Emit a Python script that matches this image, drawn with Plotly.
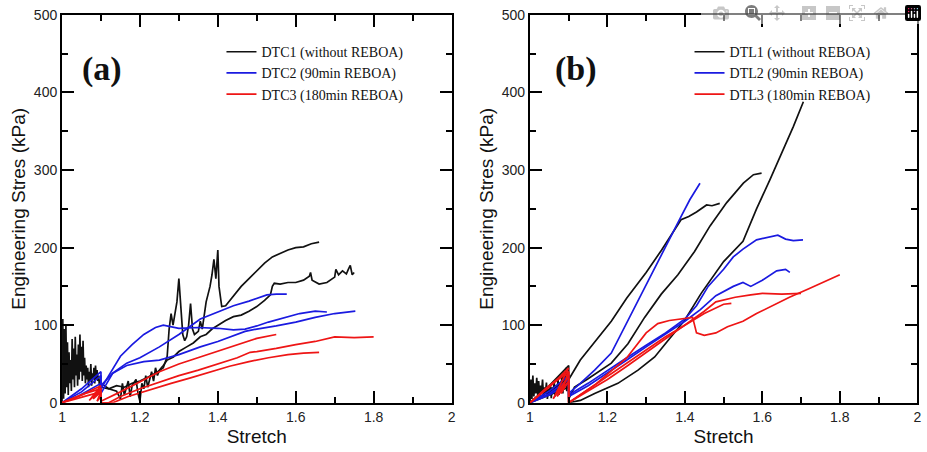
import plotly.graph_objects as go

# ---- panel (a): DTC specimens ----
A_NOISE_X = [1.000, 1.002, 1.004, 1.006, 1.008, 1.010, 1.012, 1.014, 1.016, 1.018, 1.020,
             1.022, 1.024, 1.026, 1.028, 1.030, 1.032, 1.034, 1.036, 1.038, 1.040,
             1.042, 1.044, 1.046, 1.048, 1.050, 1.052, 1.054, 1.056, 1.058, 1.060,
             1.062, 1.064, 1.066, 1.068, 1.070, 1.072, 1.074, 1.076, 1.078, 1.080,
             1.082, 1.084, 1.086, 1.088, 1.090, 1.092, 1.094, 1.096, 1.098, 1.100]
A_NOISE_Y = [0, 108, 5, 95, 12, 100, 20, 78, 10, 65, 25,
             55, 15, 82, 30, 70, 20, 85, 35, 62, 22,
             75, 30, 88, 40, 72, 28, 80, 35, 58, 25,
             48, 30, 45, 20, 40, 28, 50, 22, 38, 30,
             45, 25, 48, 30, 42, 28, 35, 22, 30, 20]

A_BLACK1_X = [1.10, 1.12, 1.14, 1.16, 1.18, 1.20, 1.22, 1.24, 1.26, 1.27, 1.275, 1.28, 1.285,
              1.29, 1.295, 1.30, 1.305, 1.31, 1.315, 1.32, 1.325, 1.33, 1.335, 1.34, 1.35,
              1.355, 1.36, 1.365, 1.37, 1.375, 1.38, 1.385, 1.39, 1.395, 1.40, 1.403, 1.407,
              1.41, 1.42, 1.44, 1.46, 1.48, 1.50, 1.52, 1.54, 1.56, 1.58, 1.60, 1.62, 1.64, 1.66]
A_BLACK1_Y = [20, 18, 22, 20, 25, 28, 33, 38, 45, 60, 95, 115, 100,
              118, 130, 160, 125, 88, 80, 85, 100, 128, 95, 88, 92,
              105, 95, 112, 130, 140, 150, 165, 185, 160, 197, 150, 130,
              124, 125, 138, 150, 160, 170, 180, 188, 193, 197, 200, 201, 205, 207]

A_BLACK2_X = [1.10, 1.12, 1.14, 1.15, 1.155, 1.16, 1.17, 1.175, 1.18, 1.19, 1.195, 1.20, 1.205,
              1.21, 1.215, 1.22, 1.225, 1.23, 1.235, 1.24, 1.245, 1.25, 1.26, 1.27, 1.286,
              1.30, 1.32, 1.337, 1.355, 1.37, 1.385, 1.40, 1.42, 1.44, 1.46, 1.48, 1.50,
              1.52, 1.535, 1.54, 1.545, 1.56, 1.58, 1.60, 1.62, 1.635, 1.638, 1.642, 1.66,
              1.68, 1.69, 1.70, 1.703, 1.71, 1.72, 1.73, 1.735, 1.74, 1.745, 1.75]
A_BLACK2_Y = [25, 18, 15, 5, 25, 10, 28, 8, 22, 30, 12, 2, 25,
              18, 35, 20, 30, 40, 28, 45, 35, 42, 48, 55, 59,
              66, 72, 77, 85, 88, 95, 100, 106, 111, 113, 118, 124,
              132, 139, 150, 154, 153, 155, 155, 158, 163, 168, 158, 153,
              155, 158, 162, 172, 165, 170, 166, 172, 177, 165, 168]

A_BLUE1_X = [1.00, 1.05, 1.10, 1.10, 1.12, 1.15, 1.18, 1.21, 1.24, 1.26, 1.30, 1.35, 1.40,
             1.44, 1.47, 1.50, 1.53, 1.57, 1.61, 1.65, 1.68]
A_BLUE1_Y = [0, 18, 40, 18, 35, 60, 75, 88, 97, 100, 96, 97, 96,
             94, 95, 99, 104, 110, 115, 118, 117]
A_BLUE2_X = [1.00, 1.05, 1.10, 1.10, 1.13, 1.166, 1.20, 1.25, 1.30, 1.355, 1.40, 1.44, 1.48,
             1.526, 1.55, 1.577]
A_BLUE2_Y = [0, 14, 35, 22, 38, 51, 58, 72, 88, 108, 117, 125, 131,
             139, 140, 140]
A_BLUE3_X = [1.00, 1.04, 1.10, 1.10, 1.13, 1.166, 1.21, 1.25, 1.30, 1.355, 1.40, 1.44, 1.47,
             1.50, 1.55, 1.60, 1.65, 1.70, 1.753]
A_BLUE3_Y = [0, 8, 25, 12, 38, 48, 53, 55, 62, 72, 79, 86, 92,
             95, 99, 104, 110, 115, 118]

A_RED1_X = [1.00, 1.05, 1.10, 1.07, 1.10, 1.08, 1.10, 1.10, 1.15, 1.20, 1.25, 1.30, 1.35,
            1.40, 1.45, 1.50, 1.55]
A_RED1_Y = [0, 10, 22, 3, 18, 5, 14, 2, 14, 27, 40, 50, 58,
            67, 75, 83, 88]
A_RED2_X = [1.00, 1.06, 1.10, 1.10, 1.12, 1.15, 1.20, 1.25, 1.30, 1.35, 1.40, 1.45, 1.483,
            1.50, 1.55, 1.60, 1.65, 1.70, 1.75, 1.80]
A_RED2_Y = [0, 12, 18, 0, 0, 8, 18, 27, 35, 42, 50, 58, 65,
            66, 70, 75, 79, 85, 84, 85]
A_RED3_X = [1.00, 1.07, 1.10, 1.09, 1.10, 1.10, 1.13, 1.17, 1.22, 1.28, 1.33, 1.38, 1.43,
            1.48, 1.50, 1.53, 1.58, 1.62, 1.66]
A_RED3_Y = [0, 10, 14, 2, 8, 0, 0, 8, 16, 25, 32, 40, 47,
            53, 55, 58, 62, 64, 65]

# ---- panel (b): DTL specimens ----
B_NOISE_X = [1.000, 1.0025, 1.005, 1.0075, 1.010, 1.0125, 1.015, 1.0175, 1.020, 1.0225, 1.025,
             1.0275, 1.030, 1.0325, 1.035, 1.0375, 1.040, 1.0425, 1.045, 1.0475, 1.050,
             1.0525, 1.055, 1.0575, 1.060, 1.0625, 1.065, 1.0675, 1.070, 1.0725, 1.075,
             1.0775, 1.080, 1.0825, 1.085, 1.0875, 1.090, 1.0925, 1.095, 1.0975, 1.100]
B_NOISE_Y = [0, 30, 5, 35, 8, 25, 12, 32, 10, 28, 6,
             22, 14, 30, 8, 20, 12, 26, 5, 18, 10,
             24, 6, 20, 12, 28, 8, 22, 15, 30, 10,
             25, 18, 35, 12, 40, 20, 45, 15, 38, 25]

B_BLACK1_X = [1.00, 1.05, 1.10, 1.10, 1.13, 1.167, 1.21, 1.25, 1.30, 1.34, 1.37, 1.39, 1.41,
              1.43, 1.456, 1.47, 1.49]
B_BLACK1_Y = [0, 22, 48, 30, 55, 78, 105, 135, 168, 197, 220, 236, 240,
              246, 255, 254, 257]
B_BLACK2_X = [1.00, 1.06, 1.10, 1.10, 1.115, 1.15, 1.21, 1.253, 1.296, 1.339, 1.382, 1.425,
              1.465, 1.508, 1.551, 1.577, 1.598]
B_BLACK2_Y = [0, 18, 35, 5, 20, 31, 51, 76, 110, 140, 165, 195,
              228, 258, 283, 294, 296]
B_BLACK3_X = [1.00, 1.05, 1.10, 1.10, 1.13, 1.167, 1.227, 1.279, 1.322, 1.356, 1.399, 1.442,
              1.477, 1.50, 1.55, 1.585, 1.62, 1.65, 1.68, 1.706]
B_BLACK3_Y = [0, 10, 20, 0, 3, 12, 25, 42, 59, 80, 106, 141,
              165, 182, 208, 250, 288, 322, 356, 388]

B_BLUE1_X = [1.00, 1.05, 1.10, 1.10, 1.13, 1.167, 1.21, 1.253, 1.296, 1.339, 1.39, 1.413,
             1.43, 1.439]
B_BLUE1_Y = [0, 15, 35, 12, 25, 42, 64, 106, 149, 192, 240, 262,
             275, 283]
B_BLUE2_X = [1.00, 1.05, 1.10, 1.10, 1.15, 1.20, 1.25, 1.30, 1.35, 1.40, 1.43, 1.46, 1.50,
             1.525, 1.55, 1.585, 1.62, 1.64, 1.66, 1.68, 1.705]
B_BLUE2_Y = [0, 12, 30, 10, 25, 42, 58, 74, 90, 108, 125, 150, 172,
             188, 198, 210, 214, 216, 211, 209, 210]
B_BLUE3_X = [1.00, 1.05, 1.10, 1.10, 1.15, 1.20, 1.25, 1.30, 1.35, 1.40, 1.44, 1.48, 1.525,
             1.55, 1.57, 1.60, 1.637, 1.66, 1.671]
B_BLUE3_Y = [0, 10, 25, 8, 22, 38, 55, 72, 88, 105, 120, 138, 150,
             155, 150, 158, 170, 172, 168]

B_RED1_X = [1.00, 1.05, 1.10, 1.06, 1.10, 1.07, 1.10, 1.08, 1.10, 1.10, 1.17, 1.25, 1.30,
            1.33, 1.36, 1.40, 1.42, 1.425, 1.43, 1.45, 1.48, 1.51, 1.55, 1.585, 1.62,
            1.67, 1.72, 1.76, 1.80]
B_RED1_Y = [0, 20, 45, 5, 35, 8, 28, 12, 40, 0, 24, 58, 90,
            102, 106, 109, 110, 100, 90, 87, 90, 98, 105, 115, 124,
            136, 147, 156, 165]
B_RED2_X = [1.00, 1.06, 1.10, 1.10, 1.15, 1.20, 1.25, 1.30, 1.35, 1.40, 1.45, 1.48, 1.53,
            1.57, 1.60, 1.65, 1.70]
B_RED2_Y = [0, 25, 40, 0, 15, 30, 47, 65, 82, 100, 118, 130, 136,
            139, 141, 140, 141]
B_RED3_X = [1.00, 1.04, 1.09, 1.10, 1.10, 1.15, 1.20, 1.25, 1.30, 1.35, 1.40, 1.45, 1.50, 1.52]
B_RED3_Y = [0, 18, 38, 30, 0, 17, 33, 50, 68, 85, 100, 115, 127, 128]

A_LEGEND = ["DTC1 (without REBOA)", "DTC2 (90min REBOA)", "DTC3 (180min REBOA)"]
B_LEGEND = ["DTL1 (without REBOA)", "DTL2 (90min REBOA)", "DTL3 (180min REBOA)"]

BLACK = "#111111"
BLUE = "#1a1ae0"
RED = "#ee1515"
SERIF = "Liberation Serif, Times New Roman, serif"
SANS = "Liberation Sans, Arial, sans-serif"

PANELS = [
    dict(xaxis="x", yaxis="y", legend="legend", names=A_LEGEND, groups=[
        (BLACK, [(A_NOISE_X, A_NOISE_Y), (A_BLACK1_X, A_BLACK1_Y), (A_BLACK2_X, A_BLACK2_Y)]),
        (BLUE, [(A_BLUE1_X, A_BLUE1_Y), (A_BLUE2_X, A_BLUE2_Y), (A_BLUE3_X, A_BLUE3_Y)]),
        (RED, [(A_RED1_X, A_RED1_Y), (A_RED2_X, A_RED2_Y), (A_RED3_X, A_RED3_Y)])]),
    dict(xaxis="x2", yaxis="y2", legend="legend2", names=B_LEGEND, groups=[
        (BLACK, [(B_NOISE_X, B_NOISE_Y), (B_BLACK1_X, B_BLACK1_Y), (B_BLACK2_X, B_BLACK2_Y),
                 (B_BLACK3_X, B_BLACK3_Y)]),
        (BLUE, [(B_BLUE1_X, B_BLUE1_Y), (B_BLUE2_X, B_BLUE2_Y), (B_BLUE3_X, B_BLUE3_Y)]),
        (RED, [(B_RED1_X, B_RED1_Y), (B_RED2_X, B_RED2_Y), (B_RED3_X, B_RED3_Y)])]),
]


def join_curves(curves):
    # one trace per colour; None breaks the line between specimens
    xs, ys = [], []
    for cx, cy in curves:
        xs += list(cx) + [None]
        ys += list(cy) + [None]
    return xs, ys


fig = go.Figure()

for panel in PANELS:
    for (color, curves), name in zip(panel["groups"], panel["names"]):
        xs, ys = join_curves(curves)
        fig.add_trace(go.Scatter(x=xs, y=ys, mode="lines", name=name,
                                 xaxis=panel["xaxis"], yaxis=panel["yaxis"], legend=panel["legend"],
                                 line=dict(color=color, width=1.7), connectgaps=False))

axis_common = dict(
    showgrid=False, zeroline=False, showline=True, linecolor="black", linewidth=2,
    mirror="allticks", ticks="inside", ticklen=12, tickwidth=1.5, tickcolor="black",
    automargin=False, tickfont=dict(size=14, color="#222222", family=SANS),
)
x_common = dict(axis_common, range=[1, 2], dtick=0.2,
                minor=dict(ticks="inside", dtick=0.1, ticklen=6, tickcolor="black"),
                title=dict(text="Stretch", standoff=6, font=dict(family=SANS, size=19, color="#111111")))
y_common = dict(axis_common, range=[0, 500], dtick=100,
                minor=dict(ticks="inside", dtick=50, ticklen=6, tickcolor="black"),
                title=dict(text="Engineering Stres (kPa)", standoff=3,
                           font=dict(family=SANS, size=19, color="#111111")))


def legend_box(x, label):
    # panel label is the legend title, sitting to the left of the three entries
    return dict(x=x, y=0.92, xanchor="left", yanchor="top", bgcolor="rgba(0,0,0,0)", borderwidth=0,
                tracegroupgap=0, font=dict(family=SERIF, size=14, color="#111111"),
                title=dict(text=label, side="left", font=dict(family=SERIF, size=34, color="#111111")))


fig.update_layout(
    template="none",
    width=927, height=452,
    margin=dict(l=0, r=0, t=0, b=0),
    showlegend=True,
    xaxis=dict(x_common, domain=[0.0669, 0.4871], anchor="y"),
    yaxis=dict(y_common, domain=[0.109, 0.967], anchor="x"),
    xaxis2=dict(x_common, domain=[0.5717, 0.9895], anchor="y2"),
    yaxis2=dict(y_common, domain=[0.109, 0.967], anchor="x2"),
    legend=legend_box(0.0863, "<b>(a)</b>\u2003\u2003\u2002\u2009"),
    legend2=legend_box(0.5965, "<b>(b)</b>\u2003\u2003\u2002"),
)

fig.write_html("out.html", post_script="document.body.style.margin='0';")
